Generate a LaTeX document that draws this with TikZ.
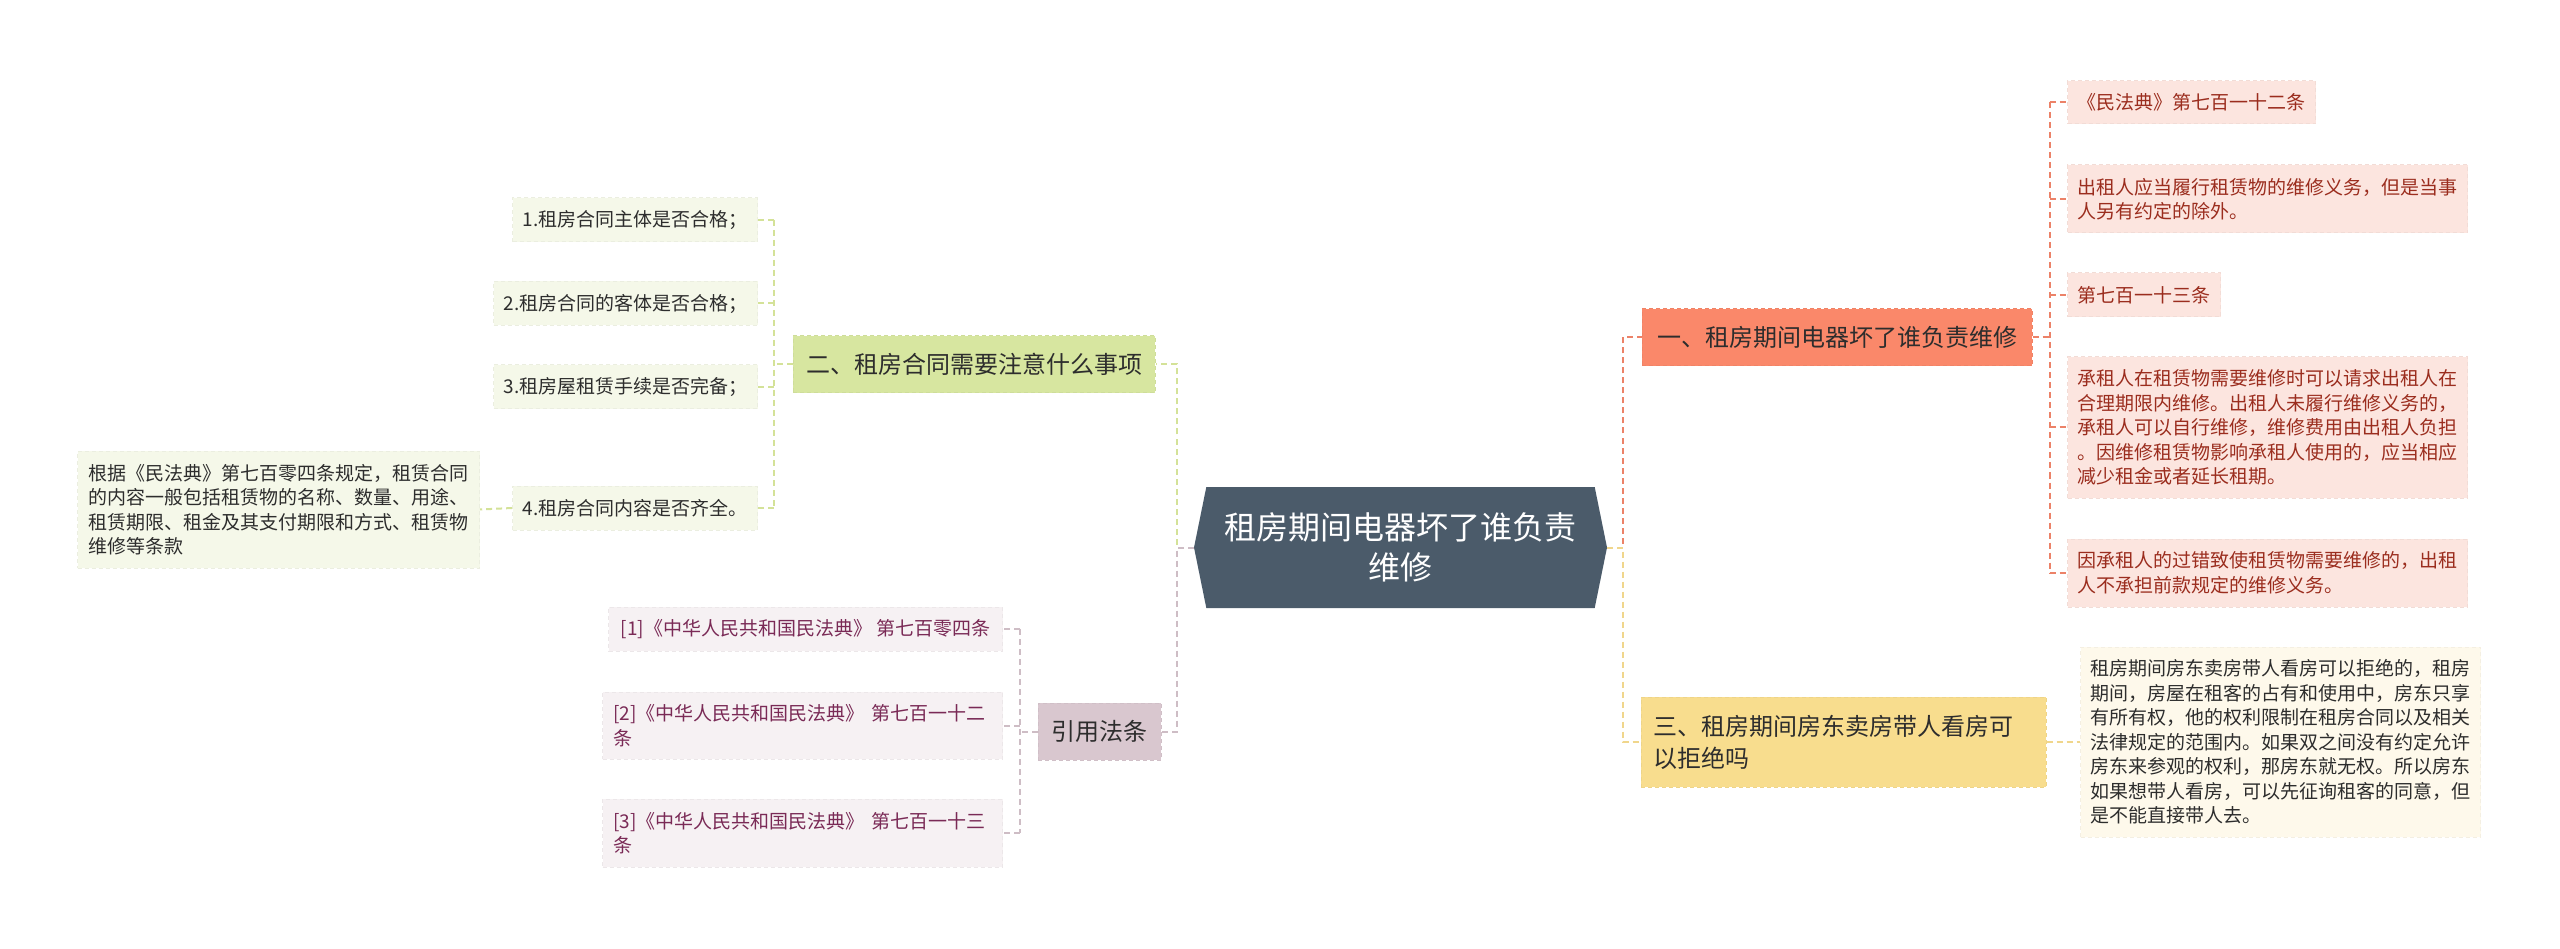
\documentclass[tikz,border=0pt]{standalone}
\usepackage{fontspec}
\setmainfont{Noto Sans CJK SC}
\usetikzlibrary{shapes.symbols,positioning}
\definecolor{rootfill}{RGB}{75,91,106}
\definecolor{textdark}{RGB}{45,45,45}
\definecolor{bOrange}{RGB}{250,136,106}
\definecolor{lOrange}{RGB}{252,229,223}
\definecolor{tRed}{RGB}{155,45,30}
\definecolor{cOrange}{RGB}{236,130,104}
\definecolor{bYellow}{RGB}{248,221,142}
\definecolor{lYellow}{RGB}{254,249,235}
\definecolor{cYellow}{RGB}{240,214,140}
\definecolor{bGreen}{RGB}{215,230,160}
\definecolor{lGreen}{RGB}{245,248,233}
\definecolor{cGreen}{RGB}{212,226,152}
\definecolor{bMauve}{RGB}{217,199,207}
\definecolor{lMauve}{RGB}{246,241,243}
\definecolor{cMauve}{RGB}{206,189,197}
\definecolor{tMauve}{RGB}{122,42,86}
\tikzset{
    topic/.style={signal, signal to=west and east, signal pointer angle=157, fill=rootfill, text=white,
        minimum width=413pt, minimum height=121pt, inner sep=0pt, align=center, font=\fontsize{32}{40}\selectfont},
    box/.style={rectangle, fill=#1, draw=#1!96!black, dash pattern=on 4pt off 3pt, line width=1pt},
    branch/.style={minimum height=57pt, inner xsep=12pt, text=textdark, font=\fontsize{24}{32}\selectfont},
    branchO/.style={branch, box=bOrange},
    branchY/.style={branch, box=bYellow},
    branchG/.style={branch, box=bGreen},
    branchM/.style={branch, box=bMauve},
    leaf/.style={inner xsep=10pt, inner ysep=0pt, minimum height=44pt, align=left, font=\fontsize{19}{24.5}\selectfont},
    leafO/.style={leaf, box=lOrange, text=tRed},
    leafY/.style={leaf, box=lYellow, text=textdark},
    leafG/.style={leaf, box=lGreen, text=textdark},
    leafM/.style={leaf, box=lMauve, text=tMauve},
    link/.style={line width=2pt, dash pattern=on 6pt off 4pt},
    lnO/.style={link, cOrange},
    lnY/.style={link, cYellow},
    lnG/.style={link, cGreen},
    lnM/.style={link, cMauve},
}
\begin{document}
\begin{tikzpicture}[x=1pt,y=-1pt]
    \useasboundingbox[fill=white] (0,0) rectangle (2560,949);

    \node[topic] (root) at (1400.5,547.5) {租房期间电器坏了谁负责\\维修};

    \node[branchO, minimum width=390pt] (b1) at (1837,337.5) {一、租房期间电器坏了谁负责维修};
    \node[branchY, text width=381pt, align=left, minimum height=90pt] (b3) at (1843.5,742) {三、租房期间房东卖房带人看房可\\以拒绝吗};
    \node[branchG, minimum width=362pt] (b2) at (974,364.5) {二、租房合同需要注意什么事项};
    \node[branchM, minimum width=123pt] (b4) at (1099.5,731.5) {引用法条};

    \node[leafO, anchor=west, minimum height=43pt] (c1) at (2067,102.5) {《民法典》第七百一十二条};
    \node[leafO, anchor=west, text width=380pt, minimum height=68pt] (c2) at (2067,199) {出租人应当履行租赁物的维修义务，但是当事\\人另有约定的除外。};
    \node[leafO, anchor=west] (c3) at (2067,295) {第七百一十三条};
    \node[leafO, anchor=west, text width=380pt, minimum height=141pt] (c4) at (2067,427.5) {承租人在租赁物需要维修时可以请求出租人在\\合理期限内维修。出租人未履行维修义务的，\\承租人可以自行维修，维修费用由出租人负担\\。因维修租赁物影响承租人使用的，应当相应\\减少租金或者延长租期。};
    \node[leafO, anchor=west, text width=380pt, minimum height=68pt] (c5) at (2067,573) {因承租人的过错致使租赁物需要维修的，出租\\人不承担前款规定的维修义务。};

    \node[leafY, anchor=west, text width=380pt, minimum height=190pt] (d1) at (2080,742) {租房期间房东卖房带人看房可以拒绝的，租房\\期间，房屋在租客的占有和使用中，房东只享\\有所有权，他的权利限制在租房合同以及相关\\法律规定的范围内。如果双之间没有约定允许\\房东来参观的权利，那房东就无权。所以房东\\如果想带人看房，可以先征询租客的同意，但\\是不能直接带人去。};

    \foreach \n/\y/\t in {e1/220/{1.租房合同主体是否合格；}, e2/303.5/{2.租房合同的客体是否合格；},
                          e3/387/{3.租房屋租赁手续是否完备；}, e4/508/{4.租房合同内容是否齐全。}} {
        \node[leafG, anchor=east] (\n) at (758,\y) {\t};
    }
    \node[leafG, anchor=east, inner xsep=11pt, text width=380pt, minimum height=117pt] (f1) at (480,509.5) {根据《民法典》第七百零四条规定，租赁合同\\的内容一般包括租赁物的名称、数量、用途、\\租赁期限、租金及其支付期限和方式、租赁物\\维修等条款};

    \node[leafM, anchor=east, inner xsep=12pt] (g1) at (1003,629) {[1]《中华人民共和国民法典》 第七百零四条};
    \node[leafM, anchor=east, inner xsep=11pt, text width=378pt, minimum height=67pt] (g2) at (1003,725.5) {[2]《中华人民共和国民法典》 第七百一十二\\条};
    \node[leafM, anchor=east, inner xsep=11pt, text width=378pt, minimum height=68pt] (g3) at (1003,833) {[3]《中华人民共和国民法典》 第七百一十三\\条};

    \draw[lnO] (root.east) -- ++(16,0) coordinate (jr) |- (b1.west);
    \draw[lnY] (root.east) -- (jr) |- (b3.west);
    \draw[lnG] (root.west) -- ++(-17,0) coordinate (jl) |- (b2.east);
    \draw[lnM] (root.west) -- (jl) |- (b4.east);

    \draw[lnO] (b1.east) -- ++(17,0) coordinate (t1);
    \draw[lnO] (t1 |- c1.west) -- (t1 |- c5.west);
    \foreach \c in {c1,c2,c3,c4,c5}
        \draw[lnO] (t1 |- \c.west) -- (\c.west);

    \draw[lnY] (b3.east) -- (d1.west);

    \draw[lnG] (b2.west) -- ++(-19,0) coordinate (t2);
    \draw[lnG] (t2 |- e1.east) -- (t2 |- e4.east);
    \foreach \e in {e1,e2,e3,e4}
        \draw[lnG] (t2 |- \e.east) -- (\e.east);
    \draw[lnG] (e4.west) -- (f1.east);

    \draw[lnM] (b4.west) -- ++(-18,0) coordinate (t4);
    \draw[lnM] (t4 |- g1.east) -- (t4 |- g3.east);
    \foreach \g in {g1,g2,g3}
        \draw[lnM] (t4 |- \g.east) -- (\g.east);
\end{tikzpicture}
\end{document}
